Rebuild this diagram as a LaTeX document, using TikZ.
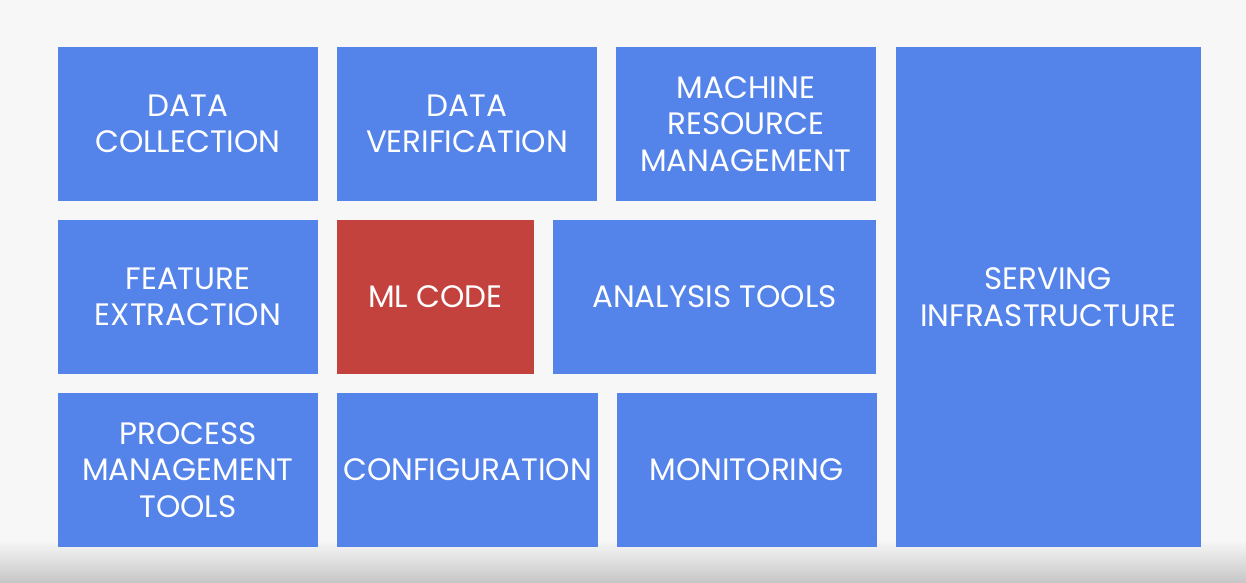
\documentclass[tikz,border=0pt]{standalone}
\usepackage{fontspec}
\setmainfont{Poppins}
\definecolor{bg}{HTML}{F7F7F8}
\definecolor{tileblue}{HTML}{5483EA}
\definecolor{tilered}{HTML}{C4423D}
\definecolor{floor}{HTML}{C7C7C8}
\begin{document}
\begin{tikzpicture}[x=1pt,y=-1pt,
  tile/.style={fill=tileblue, draw=none, inner sep=0pt, text=white, align=center,
    font=\fontsize{31}{36.5}\selectfont, anchor=center},
  hot/.style={tile, fill=tilered}]
% backdrop with a soft grey floor
\fill[bg] (0,0) rectangle (1246,582);
\shade[top color=bg, bottom color=floor] (0,540) rectangle (1246,582);
\useasboundingbox (0,0) rectangle (1246,582);
% top row
\node[tile, minimum width=260pt, minimum height=154pt] (dc) at (188,124) {DATA\\COLLECTION};
\node[tile, minimum width=260pt, minimum height=154pt] (dv) at (467,124) {DATA\\VERIFICATION};
\node[tile, minimum width=260pt, minimum height=154pt] (mrm) at (746,124) {MACHINE\\RESOURCE\\MANAGEMENT};
% middle row
\node[tile, minimum width=260pt, minimum height=154pt] (fe) at (188,297) {FEATURE\\EXTRACTION};
\node[hot, minimum width=197pt, minimum height=154pt] (ml) at (435.5,297) {ML CODE};
\node[tile, minimum width=323pt, minimum height=154pt] (at) at (714.5,297) {ANALYSIS TOOLS};
% bottom row
\node[tile, minimum width=260pt, minimum height=154pt] (pmt) at (188,470) {PROCESS\\MANAGEMENT\\TOOLS};
\node[tile, minimum width=261pt, minimum height=154pt] (cfg) at (467.5,470) {CONFIGURATION};
\node[tile, minimum width=260pt, minimum height=154pt] (mon) at (746.5,470) {MONITORING};
% tall tile on the right
\node[tile, minimum width=305pt, minimum height=500pt] (si) at (1048,297) {SERVING\\INFRASTRUCTURE};
\end{tikzpicture}
\end{document}
